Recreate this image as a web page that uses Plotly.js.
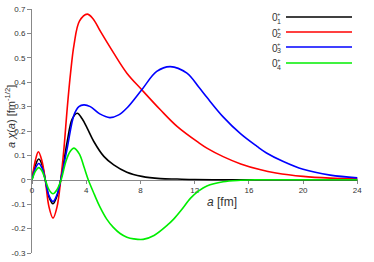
<!DOCTYPE html>
<html>
<head>
<meta charset="utf-8">
<script src="https://cdn.plot.ly/plotly-3.0.1.min.js"></script>
<style>html,body{margin:0;padding:0;background:#fff;}#chart{width:374px;height:262px;}</style>
</head>
<body>
<div id="chart"></div>
<script>
// Data
const xBlack = [0, 0.25, 0.5, 0.75, 0.98, 1.25, 1.55, 1.85, 2.12, 2.6, 2.97, 3.34, 3.7, 4.07, 4.56, 5.3, 6.03, 7.0, 8.1, 9.47, 10.7, 12, 14, 16, 20, 24];
const yBlack = [0, 0.06, 0.085, 0.06, 0, -0.07, -0.098, -0.065, 0, 0.157, 0.25, 0.273, 0.25, 0.212, 0.157, 0.096, 0.061, 0.031, 0.014, 0.005, 0.003, 0.001, 0, 0, 0, 0];

const xRed = [0, 0.25, 0.47, 0.72, 0.98, 1.25, 1.55, 1.85, 2.12, 2.36, 2.6, 2.85, 3.1, 3.5, 4.07, 4.5, 5.05, 6.03, 7.0, 8.1, 9.47, 10.7, 12.3, 12.9, 14.1, 15.4, 16.8, 18, 20, 22, 24];
const yRed = [0, 0.08, 0.115, 0.08, 0, -0.11, -0.157, -0.11, 0, 0.13, 0.294, 0.44, 0.553, 0.65, 0.679, 0.66, 0.608, 0.519, 0.437, 0.369, 0.287, 0.219, 0.152, 0.13, 0.095, 0.065, 0.042, 0.028, 0.014, 0.007, 0.004];

const xBlue = [0, 0.25, 0.5, 0.75, 0.98, 1.25, 1.55, 1.85, 2.12, 2.6, 3.1, 3.46, 3.83, 4.3, 5.0, 5.74, 6.4, 7.0, 8.1, 9.2, 10.2, 11.43, 12.3, 12.9, 14.1, 15.4, 16.6, 17.3, 18.5, 20, 22, 24];
const yBlue = [0, 0.047, 0.067, 0.047, 0, -0.065, -0.089, -0.06, 0, 0.13, 0.266, 0.3, 0.307, 0.3, 0.27, 0.255, 0.266, 0.294, 0.369, 0.444, 0.464, 0.437, 0.38, 0.338, 0.258, 0.188, 0.137, 0.11, 0.076, 0.043, 0.019, 0.008];

const xGreen = [0, 0.25, 0.5, 0.75, 0.98, 1.25, 1.55, 1.85, 2.15, 2.5, 2.8, 3.1, 3.5, 3.85, 4.15, 4.6, 5.0, 5.5, 6.0, 6.5, 7.0, 7.5, 8.2, 9.0, 10.0, 10.45, 11.0, 11.7, 12.3, 12.9, 14.1, 15.4, 16.5, 20, 24];
const yGreen = [0, 0.035, 0.05, 0.035, 0, -0.04, -0.057, -0.04, 0, 0.075, 0.115, 0.13, 0.105, 0.05, 0, -0.06, -0.11, -0.16, -0.195, -0.22, -0.235, -0.242, -0.244, -0.228, -0.185, -0.161, -0.125, -0.075, -0.045, -0.025, -0.008, -0.002, 0, 0, 0];

const seriesX = [xBlack, xRed, xBlue, xGreen];
const seriesY = [yBlack, yRed, yBlue, yGreen];
const seriesColors = ['#000000', '#ff0000', '#0000ff', '#00ee00'];
const seriesSub = ['1', '2', '3', '4'];

const xTicks = [0, 4, 8, 12, 16, 20, 24];
const yTicks = [-0.3, -0.2, -0.1, 0, 0.1, 0.2, 0.3, 0.4, 0.5, 0.6, 0.7];
const yTickText = ['-0.3', '-0.2', '-0.1', '0', '0.1', '0.2', '0.3', '0.4', '0.5', '0.6', '0.7'];

const W = 374, H = 262, ML = 32, MR = 16, MT = 9, MB = 9;
const PW = W - ML - MR, PH = H - MT - MB;
const px2x = p => (p - ML) / PW;
const py2y = p => (H - MB - p) / PH;

const FONT = 'Liberation Sans, Arial, Helvetica, sans-serif';

const traces = seriesX.map((xs, i) => ({
  x: xs, y: seriesY[i], type: 'scatter', mode: 'lines',
  line: {color: seriesColors[i], width: 1.6, shape: 'spline', smoothing: 1},
  showlegend: false, hoverinfo: 'skip'
}));

const shapes = [];
const annotations = [];
const legendRows = [17, 32, 47, 63];
seriesColors.forEach((c, i) => {
  const yy = py2y(legendRows[i]);
  shapes.push({type: 'line', xref: 'paper', yref: 'paper', x0: px2x(286), x1: px2x(352), y0: yy, y1: yy,
    line: {color: c, width: 1.6}});
  annotations.push({xref: 'paper', yref: 'paper', x: px2x(279.5), y: py2y(legendRows[i] + 1), text: '0',
    showarrow: false, xanchor: 'right', yanchor: 'middle', font: {family: FONT, size: 10, color: '#333'}});
  annotations.push({xref: 'paper', yref: 'paper', x: px2x(274.5), y: py2y(legendRows[i] - 3), text: '+',
    showarrow: false, xanchor: 'left', yanchor: 'middle', font: {family: FONT, size: 6, color: '#333'}});
  annotations.push({xref: 'paper', yref: 'paper', x: px2x(274.5), y: py2y(legendRows[i] + 4), text: seriesSub[i],
    showarrow: false, xanchor: 'left', yanchor: 'middle', font: {family: FONT, size: 7, color: '#333'}});
});

annotations.push({xref: 'paper', yref: 'paper', x: px2x(10) , y: py2y(117), text: '<i>a</i> <i>χ</i>(<i>a</i>) [fm<sup>-1/2</sup>]',
  textangle: -90, showarrow: false, xanchor: 'center', yanchor: 'middle', font: {family: FONT, size: 11, color: '#333'}});
annotations.push({xref: 'paper', yref: 'paper', x: px2x(222), y: py2y(202), text: '<i>a</i> [fm]',
  showarrow: false, xanchor: 'center', yanchor: 'middle', font: {family: FONT, size: 12, color: '#333'}});

const layout = {
  width: W, height: H,
  margin: {l: ML, r: MR, t: MT, b: MB, pad: 0},
  paper_bgcolor: '#fff', plot_bgcolor: '#fff',
  showlegend: false,
  font: {family: FONT, size: 8, color: '#333'},
  xaxis: {
    range: [0, 24.05], anchor: 'free', position: py2y(179.5), side: 'bottom',
    showgrid: false, zeroline: false, showline: true, linecolor: '#888', linewidth: 1,
    tickmode: 'array', tickvals: xTicks, ticks: 'outside', ticklen: 3, tickcolor: '#888',
    tickfont: {family: FONT, size: 8, color: '#333'}, layer: 'below traces'
  },
  yaxis: {
    range: [-0.3, 0.7], showgrid: false, zeroline: false, showline: true, linecolor: '#888', linewidth: 1,
    tickmode: 'array', tickvals: yTicks, ticktext: yTickText, ticks: 'outside', ticklen: 4, tickcolor: '#888',
    tickfont: {family: FONT, size: 8, color: '#333'}, layer: 'below traces'
  },
  shapes: shapes,
  annotations: annotations
};

Plotly.newPlot('chart', traces, layout, {staticPlot: true, displayModeBar: false});
</script>
</body>
</html>
